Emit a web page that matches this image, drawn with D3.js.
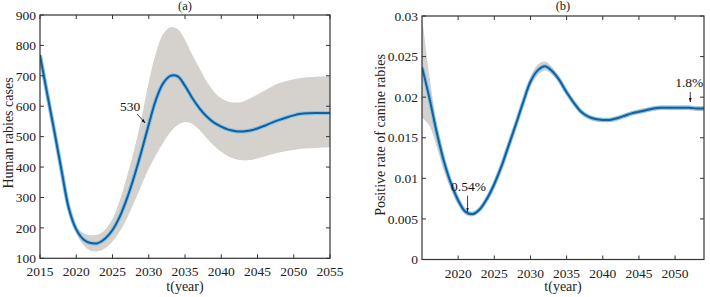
<!DOCTYPE html>
<html lang="en">
<head>
    <meta charset="UTF-8">
    <title>Human rabies cases and canine positive rate</title>
    <script src="https://d3js.org/d3.v7.min.js"></script>
    <style>
        body { margin: 0; background: #fff; }
        svg, svg text { font-family: "Liberation Serif", "Times New Roman", Times, serif; }
        .tick-label { font-size: 13.5px; fill: #222; }
        .axis-title { font-size: 14px; fill: #222; }
        .note { font-size: 13.5px; fill: #111; }
    </style>
</head>
<body>
<div id="chart"></div>
<script>
// ---- data ----
var yearsA = [2015,2016,2017,2018,2019,2020,2021,2022,2023,2024,2025,2026,2027,2028,2029,2030,2031,2032,2033,2034,2035,
              2036,2037,2038,2039,2040,2041,2042,2043,2044,2045,2046,2047,2048,2049,2050,2051,2052,2053,2054,2055];
var casesMean = [768,640,515,385,262,195,162,150,150,165,193,237,297,370,452,540,622,676,700,698,667,
                 627,593,566,546,533,523,518,517,520,527,536,546,555,563,570,575,577,578,578,578];
var casesUpper = [775,648,525,398,275,208,182,176,178,195,230,290,370,458,560,680,775,838,860,853,818,
                  769,725,681,648,626,615,612,615,626,639,652,665,676,683,689,693,695,697,698,698];
var casesLower = [760,632,505,375,250,182,143,125,123,133,155,188,232,285,340,395,440,480,515,538,548,
                  542,522,495,470,450,435,426,422,423,428,435,442,448,453,456,460,462,463,464,465];

var yearsB = [2015,2016,2017,2018,2019,2020,2021,2022,2023,2024,2025,2026,2027,2028,2029,2030,2031,2032,2033,2034,
              2035,2036,2037,2038,2039,2040,2041,2042,2043,2044,2045,2046,2047,2048,2049,2050,2051,2052,2053,2054];
var rateMean = [0.0237,0.0200,0.0158,0.0122,0.0094,0.0073,0.0059,0.0056,0.0062,0.0075,0.0093,0.0115,0.0141,0.0167,0.0194,0.0219,0.0233,0.0238,0.0232,0.0221,
                0.0206,0.0193,0.0182,0.0176,0.0173,0.0172,0.0172,0.0174,0.0177,0.0180,0.0182,0.0184,0.0186,0.0187,0.0187,0.0187,0.0187,0.0187,0.0186,0.0186];
var rateUpper = [0.0300,0.0228,0.0170,0.0130,0.0100,0.0078,0.0063,0.0059,0.0065,0.0078,0.0096,0.0118,0.0144,0.0171,0.0199,0.0225,0.0240,0.0244,0.0237,0.0225,
                 0.0209,0.0196,0.0185,0.0179,0.0176,0.0175,0.0175,0.0177,0.0180,0.0183,0.0185,0.0187,0.0189,0.0190,0.0190,0.0190,0.0190,0.0190,0.0189,0.0189];
var rateLower = [0.0175,0.0165,0.0140,0.0110,0.0086,0.0067,0.0055,0.0053,0.0059,0.0072,0.0090,0.0112,0.0138,0.0163,0.0189,0.0213,0.0227,0.0233,0.0228,0.0217,
                 0.0203,0.0190,0.0179,0.0173,0.0170,0.0169,0.0169,0.0171,0.0174,0.0177,0.0179,0.0181,0.0183,0.0184,0.0184,0.0184,0.0184,0.0184,0.0183,0.0183];

var xTicksA = [2015,2020,2025,2030,2035,2040,2045,2050,2055];
var yTicksA = [100,200,300,400,500,600,700,800,900];
var xTicksB = [2020,2025,2030,2035,2040,2045,2050];
var yTicksB = [0,0.005,0.01,0.015,0.02,0.025,0.03];
var yTickTextB = ["0","0.005","0.01","0.015","0.02","0.025","0.03"];

// annotations: [year, value, text]
var noteA = [2029.5, 545, "530"];
var noteB1 = [2021.3, 0.0059, "0.54%"];
var noteB2 = [2052.1, 0.0194, "1.8%"];

var FONT = "'Liberation Serif', 'Times New Roman', Times, serif";

var svg = d3.select("#chart").append("svg")
    .attr("width", 710)
    .attr("height", 297)
    .attr("font-family", FONT);

var defs = svg.append("defs");
defs.append("marker")
    .attr("id", "arrow")
    .attr("viewBox", "0 0 10 10")
    .attr("refX", 10).attr("refY", 5)
    .attr("markerWidth", 5).attr("markerHeight", 5)
    .attr("orient", "auto")
    .append("path").attr("d", "M0,1.5 L10,5 L0,8.5 Z").attr("fill", "#111");

function drawPanel(opt) {
    var x = opt.x, y = opt.y;
    var g = svg.append("g");
    var x0 = x.range()[0], x1 = x.range()[1];
    var yb = y.range()[0], yt = y.range()[1];

    var rows = opt.years.map(function(yr, i) {
        return { t: yr, m: opt.mean[i], hi: opt.upper[i], lo: opt.lower[i] };
    });

    var clipId = opt.id + "-clip";
    defs.append("clipPath").attr("id", clipId)
        .append("rect").attr("x", x0).attr("y", yt).attr("width", x1 - x0).attr("height", yb - yt);

    var plot = g.append("g").attr("clip-path", "url(#" + clipId + ")");
    var curve = d3.curveCatmullRom.alpha(0.5);

    plot.append("path")
        .datum(rows)
        .attr("fill", "#d5d1cc")
        .attr("d", d3.area().curve(curve)
            .x(function(d) { return x(d.t); })
            .y0(function(d) { return y(d.lo); })
            .y1(function(d) { return y(d.hi); }));

    var line = d3.line().curve(curve)
        .x(function(d) { return x(d.t); })
        .y(function(d) { return y(d.m); });

    plot.append("path").datum(rows)
        .attr("fill", "none").attr("stroke", "#7cc4ee").attr("stroke-width", 4)
        .attr("stroke-linejoin", "round").attr("d", line);
    plot.append("path").datum(rows)
        .attr("fill", "none").attr("stroke", "#1a5c96").attr("stroke-width", 2)
        .attr("stroke-linejoin", "round").attr("d", line);

    // box with inward ticks on all four sides
    g.append("rect")
        .attr("x", x0).attr("y", yt).attr("width", x1 - x0).attr("height", yb - yt)
        .attr("fill", "none").attr("stroke", "#333").attr("stroke-width", 1.2);

    var tl = 4;
    opt.xTicks.forEach(function(v) {
        g.append("line").attr("x1", x(v)).attr("x2", x(v)).attr("y1", yb).attr("y2", yb - tl).attr("stroke", "#333");
        g.append("line").attr("x1", x(v)).attr("x2", x(v)).attr("y1", yt).attr("y2", yt + tl).attr("stroke", "#333");
        g.append("text").attr("class", "tick-label")
            .attr("x", x(v)).attr("y", yb + 18)
            .attr("text-anchor", "middle")
            .text(v);
    });
    opt.yTicks.forEach(function(v, i) {
        g.append("line").attr("x1", x0).attr("x2", x0 + tl).attr("y1", y(v)).attr("y2", y(v)).attr("stroke", "#333");
        g.append("line").attr("x1", x1).attr("x2", x1 - tl).attr("y1", y(v)).attr("y2", y(v)).attr("stroke", "#333");
        g.append("text").attr("class", "tick-label")
            .attr("x", x0 - 4).attr("y", y(v)).attr("dy", "0.35em")
            .attr("text-anchor", "end")
            .text(opt.yTickText ? opt.yTickText[i] : v);
    });

    var cx = (x0 + x1) / 2;
    g.append("text").attr("class", "axis-title")
        .attr("x", cx).attr("y", 10).attr("text-anchor", "middle")
        .style("font-size", "12.5px")
        .text(opt.title);
    g.append("text").attr("class", "axis-title")
        .attr("x", cx).attr("y", 291).attr("text-anchor", "middle")
        .text("t(year)");
    g.append("text").attr("class", "axis-title")
        .attr("transform", "translate(" + opt.yLabelX + "," + opt.yLabelY + ") rotate(-90)")
        .attr("text-anchor", "middle").attr("dy", "0.35em")
        .text(opt.yLabel);

    opt.notes.forEach(function(n) {
        var px = x(n[0]), py = y(n[1]);
        g.append("line")
            .attr("x1", px + n[3]).attr("y1", py + n[4])
            .attr("x2", px).attr("y2", py)
            .attr("stroke", "#111").attr("stroke-width", 0.8)
            .attr("marker-end", "url(#arrow)");
        g.append("text").attr("class", "note")
            .attr("x", px + n[5]).attr("y", py + n[6])
            .attr("text-anchor", "middle")
            .text(n[2]);
    });
}

drawPanel({
    id: "a",
    x: d3.scaleLinear().domain([2015, 2055]).range([40, 330]),
    y: d3.scaleLinear().domain([100, 900]).range([258.3, 15]),
    years: yearsA, mean: casesMean, upper: casesUpper, lower: casesLower,
    xTicks: xTicksA, yTicks: yTicksA,
    title: "(a)", yLabel: "Human rabies cases", yLabelX: 8, yLabelY: 133,
    notes: [noteA.concat([-8, -9, -15, -12])]
});

drawPanel({
    id: "b",
    x: d3.scaleLinear().domain([2015, 2054]).range([422, 704]),
    y: d3.scaleLinear().domain([0, 0.03]).range([259.5, 16]),
    years: yearsB, mean: rateMean, upper: rateUpper, lower: rateLower,
    xTicks: xTicksB, yTicks: yTicksB, yTickText: yTickTextB,
    title: "(b)", yLabel: "Positive rate of canine rabies", yLabelX: 380, yLabelY: 135,
    notes: [noteB1.concat([0, -16, 1, -21]), noteB2.concat([0, -10, -1, -15])]
});
</script>
</body>
</html>
